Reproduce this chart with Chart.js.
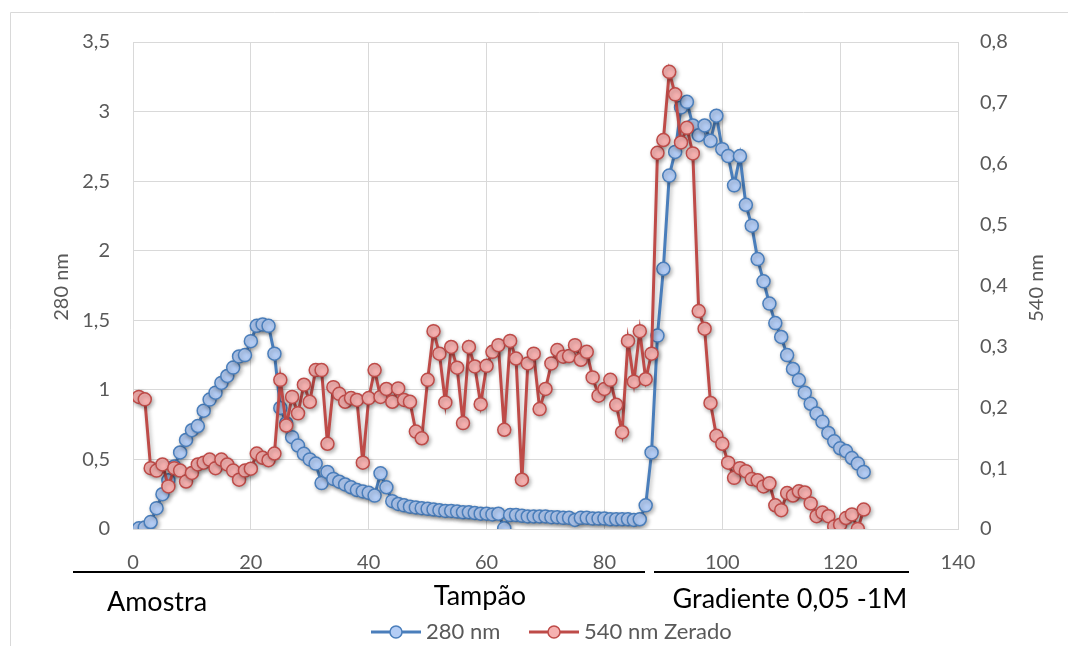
<!DOCTYPE html>
<html>
<head>
<meta charset="utf-8">
<script src="https://cdn.jsdelivr.net/npm/chart.js@4.4.1/dist/chart.umd.min.js"></script>
<style>
html,body{margin:0;padding:0;background:#fff;}
#wrap{position:relative;width:1068px;height:646px;}
</style>
</head>
<body>
<div id="wrap"><canvas id="c" width="1068" height="646"></canvas></div>
<script>
// ---------- DATA ----------
const sampleNumbers = [
  1,2,3,4,5,6,7,8,9,10,11,12,13,14,15,16,17,18,19,20,
  21,22,23,24,25,26,27,28,29,30,31,32,33,34,35,36,37,38,39,40,
  41,42,43,44,45,46,47,48,49,50,51,52,53,54,55,56,57,58,59,60,
  61,62,63,64,65,66,67,68,69,70,71,72,73,74,75,76,77,78,79,80,
  81,82,83,84,85,86,87,88,89,90,91,92,93,94,95,96,97,98,99,100,
  101,102,103,104,105,106,107,108,109,110,111,112,113,114,115,116,117,118,119,120,
  121,122,123,124
];
const abs280 = [
  0.005,0.01,0.05,0.15,0.25,0.35,0.45,0.55,0.64,0.71,0.74,0.85,0.93,0.98,1.05,1.10,1.16,1.24,1.25,1.35,
  1.46,1.47,1.46,1.26,0.87,0.76,0.66,0.60,0.54,0.50,0.47,0.33,0.41,0.36,0.34,0.32,0.30,0.28,0.27,0.26,
  0.24,0.40,0.30,0.20,0.18,0.17,0.16,0.155,0.15,0.145,0.14,0.135,0.13,0.13,0.125,0.12,0.12,0.115,0.11,0.11,
  0.105,0.11,0.005,0.10,0.10,0.095,0.09,0.09,0.09,0.09,0.085,0.085,0.08,0.08,0.065,0.08,0.08,0.075,0.075,0.075,
  0.07,0.07,0.07,0.07,0.065,0.07,0.17,0.55,1.39,1.87,2.54,2.71,3.03,3.07,2.90,2.83,2.90,2.79,2.97,2.73,
  2.68,2.47,2.68,2.33,2.18,1.94,1.78,1.62,1.48,1.38,1.25,1.15,1.07,0.98,0.90,0.83,0.77,0.69,0.63,0.58,
  0.56,0.51,0.47,0.41
];
const abs540 = [
  0.217,0.213,0.100,0.096,0.106,0.070,0.100,0.096,0.078,0.092,0.106,0.109,0.114,0.100,0.114,0.106,0.096,0.081,0.096,0.099,
  0.124,0.117,0.113,0.124,0.245,0.170,0.217,0.190,0.237,0.209,0.261,0.261,0.140,0.233,0.222,0.209,0.215,0.212,0.109,0.215,
  0.261,0.217,0.230,0.209,0.231,0.212,0.209,0.160,0.149,0.245,0.325,0.288,0.208,0.299,0.265,0.174,0.299,0.267,0.205,0.268,
  0.291,0.302,0.163,0.309,0.280,0.081,0.272,0.288,0.197,0.230,0.272,0.294,0.283,0.284,0.302,0.278,0.291,0.249,0.219,0.230,
  0.245,0.204,0.159,0.309,0.242,0.325,0.246,0.288,0.618,0.639,0.751,0.714,0.635,0.659,0.617,0.358,0.329,0.207,0.153,0.140,
  0.109,0.084,0.100,0.095,0.082,0.080,0.070,0.075,0.039,0.031,0.059,0.055,0.062,0.060,0.042,0.021,0.027,0.021,0.004,0.007,
  0.018,0.024,0.000,0.032
];
const xTickValues = [0,20,40,60,80,100,120,140];
const leftTickValues = [0,0.5,1,1.5,2,2.5,3,3.5];
const rightTickValues = [0,0.1,0.2,0.3,0.4,0.5,0.6,0.7,0.8];
const seriesNames = ['280 nm','540 nm Zerado'];
const axisTitles = ['280 nm','540 nm'];
const regionLabels = ['Amostra','Tampão','Gradiente 0,05 -1M'];

// ---------- STYLE ----------
const FONT = 'Lato, "Open Sans", sans-serif';
const GRAY_TEXT = '#595959';
const GRID = '#d9d9d9';
const BLUE = '#4a7ebb', BLUE_FILL = '#b4cdf5';
const RED = '#be4b48', RED_FILL = '#f6b1b0';

const fmt = v => Number(v.toFixed(2)).toString().replace('.', ',');

const pts = (ys) => sampleNumbers.map((x, i) => ({x, y: ys[i]}));

const shadowPlugin = {
  id: 'shadow',
  beforeDatasetsDraw(chart) {
    const ctx = chart.ctx;
    ctx.save();
    ctx.shadowColor = 'rgba(0,0,0,0.30)';
    ctx.shadowBlur = 4;
    ctx.shadowOffsetX = 1.5;
    ctx.shadowOffsetY = 2;
  },
  afterDatasetsDraw(chart) { chart.ctx.restore(); }
};

const decorPlugin = {
  id: 'decor',
  afterDraw(chart) {
    const ctx = chart.ctx;
    ctx.save();
    // outer frame (left & top)
    ctx.strokeStyle = GRID; ctx.lineWidth = 1;
    ctx.beginPath();
    ctx.moveTo(10.5, 646); ctx.lineTo(10.5, 12.5); ctx.lineTo(1068, 12.5);
    ctx.stroke();

    // axis titles
    ctx.fillStyle = GRAY_TEXT;
    ctx.font = '20px ' + FONT;
    ctx.textAlign = 'center'; ctx.textBaseline = 'middle';
    ctx.save(); ctx.translate(62, 287); ctx.rotate(-Math.PI/2); ctx.fillText(axisTitles[0], 0, 0); ctx.restore();
    ctx.save(); ctx.translate(1037, 288); ctx.rotate(-Math.PI/2); ctx.fillText(axisTitles[1], 0, 0); ctx.restore();

    // region underlines
    ctx.strokeStyle = '#000'; ctx.lineWidth = 2;
    ctx.beginPath();
    ctx.moveTo(73, 572); ctx.lineTo(645, 572);
    ctx.moveTo(654, 572); ctx.lineTo(909, 572);
    ctx.stroke();

    // region labels
    ctx.fillStyle = '#000';
    ctx.font = '27px ' + FONT;
    ctx.fillText(regionLabels[0], 157, 602);
    ctx.fillText(regionLabels[1], 480, 596);
    ctx.fillText(regionLabels[2], 790, 599);

    // legend
    const items = [
      {name: seriesNames[0], color: BLUE, fill: BLUE_FILL, x0: 371},
      {name: seriesNames[1], color: RED, fill: RED_FILL, x0: 529}
    ];
    const ly = 632;
    ctx.font = '22px ' + FONT;
    ctx.textAlign = 'left';
    items.forEach(it => {
      ctx.strokeStyle = it.color; ctx.lineWidth = 3;
      ctx.beginPath(); ctx.moveTo(it.x0, ly); ctx.lineTo(it.x0 + 50, ly); ctx.stroke();
      ctx.beginPath(); ctx.arc(it.x0 + 25, ly, 6, 0, Math.PI*2);
      ctx.fillStyle = it.fill; ctx.fill();
      ctx.lineWidth = 1.5; ctx.stroke();
      ctx.fillStyle = GRAY_TEXT;
      ctx.fillText(it.name, it.x0 + 55, ly);
    });
    ctx.restore();
  }
};

new Chart(document.getElementById('c'), {
  type: 'line',
  data: {
    datasets: [
      {
        label: seriesNames[0], data: pts(abs280), yAxisID: 'y',
        borderColor: BLUE, borderWidth: 3, pointBackgroundColor: BLUE_FILL,
        pointBorderColor: BLUE, pointBorderWidth: 1.5, pointRadius: 6.5, tension: 0, order: 2
      },
      {
        label: seriesNames[1], data: pts(abs540), yAxisID: 'y2',
        borderColor: RED, borderWidth: 3, pointBackgroundColor: RED_FILL,
        pointBorderColor: RED, pointBorderWidth: 1.5, pointRadius: 6.5, tension: 0, order: 1
      }
    ]
  },
  options: {
    responsive: false,
    animation: false,
    devicePixelRatio: 1,
    layout: {padding: {top: 42, left: 0, right: 0, bottom: 0}},
    plugins: {legend: {display: false}, tooltip: {enabled: false}},
    scales: {
      x: {
        type: 'linear', min: 0, max: 140,
        afterBuildTicks: s => { s.ticks = xTickValues.map(v => ({value: v})); },
        afterFit: s => { s.height = 117; },
        grid: {color: GRID, lineWidth: 1, drawTicks: false},
        border: {display: true, color: GRID, width: 1},
        ticks: {color: GRAY_TEXT, font: {family: FONT, size: 20}, padding: 22, maxRotation: 0, autoSkip: false, callback: v => fmt(v)}
      },
      y: {
        position: 'left', min: 0, max: 3.5,
        afterBuildTicks: s => { s.ticks = leftTickValues.map(v => ({value: v})); },
        afterFit: s => { s.width = 133; },
        grid: {color: GRID, lineWidth: 1, drawTicks: false},
        border: {display: true, color: GRID, width: 1},
        ticks: {color: GRAY_TEXT, font: {family: FONT, size: 20}, padding: 23, callback: v => fmt(v)}
      },
      y2: {
        position: 'right', min: 0, max: 0.8,
        afterBuildTicks: s => { s.ticks = rightTickValues.map(v => ({value: v})); },
        afterFit: s => { s.width = 110; },
        grid: {display: false, drawTicks: false},
        border: {display: true, color: GRID, width: 1},
        ticks: {color: GRAY_TEXT, font: {family: FONT, size: 20}, padding: 22, callback: v => fmt(v)}
      }
    }
  },
  plugins: [shadowPlugin, decorPlugin]
});
</script>
</body>
</html>
